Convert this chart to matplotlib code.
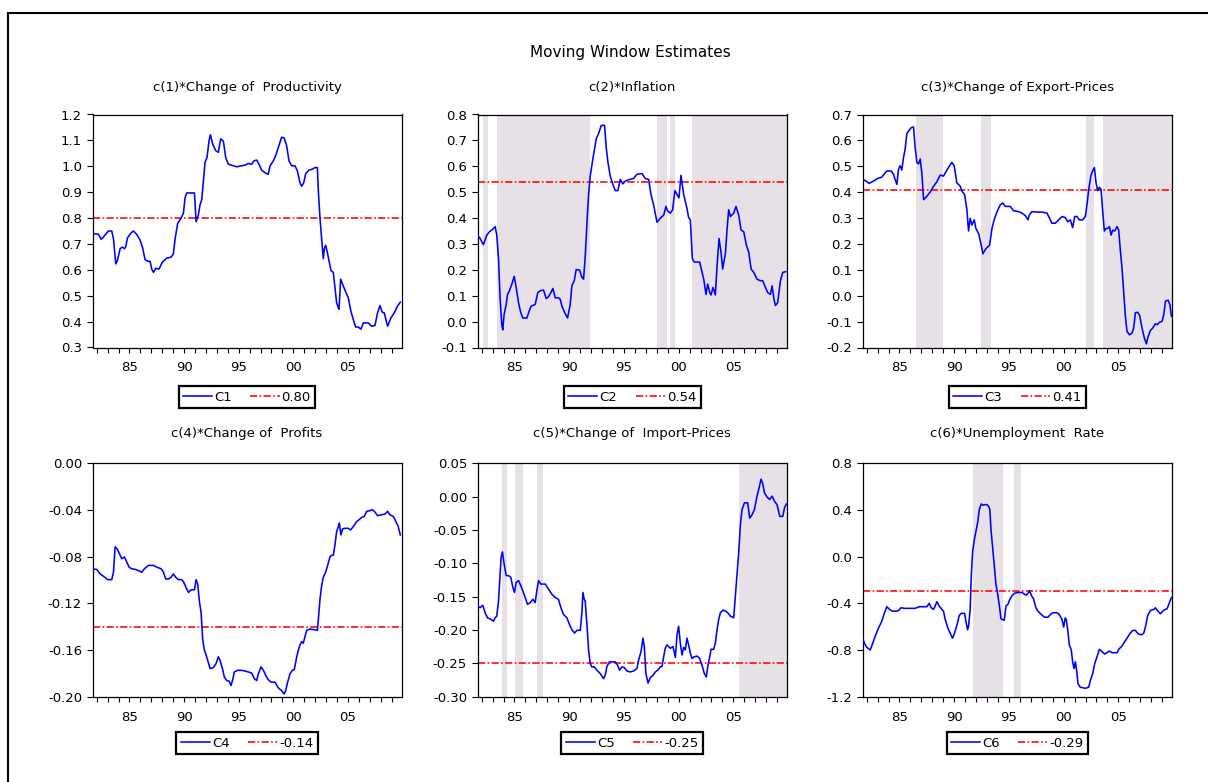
import matplotlib

matplotlib.use("Agg")
import matplotlib.pyplot as plt
from matplotlib.patches import Rectangle
import numpy as np

FIG_W, FIG_H = 1208, 782
X_START, X_END = 1981.62, 2009.9

TITLES = [
    "c(1)*Change of  Productivity",
    "c(2)*Inflation",
    "c(3)*Change of Export-Prices",
    "c(4)*Change of  Profits",
    "c(5)*Change of  Import-Prices",
    "c(6)*Unemployment  Rate",
]
NAMES = ["C1", "C2", "C3", "C4", "C5", "C6"]
MEANS = [0.80, 0.54, 0.41, -0.14, -0.25, -0.29]
Y_LIMITS = [(0.3, 1.2), (-0.1, 0.8), (-0.2, 0.7), (-0.20, 0.00), (-0.30, 0.05), (-1.2, 0.8)]
Y_STEPS = [0.1, 0.1, 0.1, 0.04, 0.05, 0.4]
Y_DECIMALS = [1, 1, 1, 2, 2, 1]
YEAR_LABELS = {1985: "85", 1990: "90", 1995: "95", 2000: "00", 2005: "05"}

# (year, estimate)
C1 = [
    (1981.62, 0.740), (1982.16, 0.738), (1982.41, 0.718), (1982.62, 0.727), (1983.08, 0.750),
    (1983.38, 0.750), (1983.54, 0.720), (1983.75, 0.623), (1983.90, 0.636), (1984.15, 0.682),
    (1984.36, 0.688), (1984.54, 0.682), (1984.66, 0.688), (1984.82, 0.723), (1985.15, 0.743),
    (1985.37, 0.750), (1985.67, 0.737), (1985.98, 0.714), (1986.19, 0.688), (1986.43, 0.640),
    (1986.68, 0.633), (1986.89, 0.633), (1987.04, 0.603), (1987.20, 0.590), (1987.41, 0.606),
    (1987.71, 0.603), (1988.02, 0.630), (1988.41, 0.645), (1988.81, 0.649), (1989.02, 0.662),
    (1989.18, 0.720), (1989.42, 0.780), (1989.73, 0.800), (1989.94, 0.819), (1990.09, 0.878),
    (1990.24, 0.897), (1990.95, 0.897), (1991.10, 0.786), (1991.31, 0.812), (1991.46, 0.851),
    (1991.62, 0.871), (1991.77, 0.943), (1991.92, 1.015), (1992.10, 1.034), (1992.29, 1.100),
    (1992.41, 1.122), (1992.62, 1.086), (1992.90, 1.060), (1993.14, 1.054), (1993.35, 1.106),
    (1993.60, 1.097), (1993.81, 1.034), (1994.05, 1.008), (1994.51, 1.002), (1994.82, 0.998),
    (1995.27, 1.002), (1995.64, 1.005), (1995.88, 1.011), (1996.19, 1.008), (1996.40, 1.021),
    (1996.65, 1.024), (1996.86, 1.008), (1997.10, 0.985), (1997.41, 0.975), (1997.71, 0.969),
    (1997.87, 1.002), (1998.17, 1.021), (1998.38, 1.041), (1998.63, 1.073), (1998.93, 1.112),
    (1999.15, 1.110), (1999.39, 1.080), (1999.60, 1.021), (1999.85, 1.002), (2000.15, 1.002),
    (2000.37, 0.982), (2000.61, 0.936), (2000.76, 0.923), (2000.95, 0.936), (2001.13, 0.971),
    (2001.43, 0.985), (2001.74, 0.989), (2001.98, 0.995), (2002.20, 0.995), (2002.29, 0.904),
    (2002.44, 0.800), (2002.59, 0.721), (2002.74, 0.643), (2002.84, 0.682), (2002.96, 0.695),
    (2003.14, 0.662), (2003.29, 0.630), (2003.45, 0.597), (2003.66, 0.590), (2003.81, 0.532),
    (2003.96, 0.473), (2004.18, 0.447), (2004.33, 0.564), (2004.57, 0.538), (2004.82, 0.512),
    (2005.03, 0.492), (2005.27, 0.440), (2005.49, 0.408), (2005.70, 0.379), (2005.95, 0.379),
    (2006.19, 0.371), (2006.40, 0.395), (2006.86, 0.395), (2007.16, 0.382), (2007.47, 0.385),
    (2007.71, 0.434), (2007.93, 0.462), (2008.14, 0.436), (2008.32, 0.434), (2008.63, 0.382),
    (2008.93, 0.414), (2009.24, 0.434), (2009.54, 0.460), (2009.79, 0.475),
]
C2 = [
    (1981.62, 0.334), (1981.86, 0.321), (1982.16, 0.297), (1982.47, 0.334), (1982.71, 0.347),
    (1983.02, 0.357), (1983.23, 0.367), (1983.38, 0.334), (1983.54, 0.243), (1983.69, 0.086),
    (1983.84, -0.012), (1983.93, -0.032), (1984.05, 0.027), (1984.24, 0.066), (1984.36, 0.105),
    (1984.54, 0.119), (1984.76, 0.145), (1984.97, 0.175), (1985.15, 0.132), (1985.37, 0.073),
    (1985.58, 0.034), (1985.76, 0.014), (1986.13, 0.014), (1986.34, 0.040), (1986.52, 0.060),
    (1986.89, 0.066), (1987.13, 0.112), (1987.35, 0.119), (1987.65, 0.122), (1987.90, 0.089),
    (1988.11, 0.096), (1988.32, 0.112), (1988.51, 0.128), (1988.72, 0.092), (1989.02, 0.092),
    (1989.18, 0.086), (1989.33, 0.060), (1989.57, 0.036), (1989.85, 0.014), (1990.09, 0.066),
    (1990.24, 0.138), (1990.46, 0.158), (1990.64, 0.201), (1990.95, 0.199), (1991.16, 0.171),
    (1991.31, 0.164), (1991.46, 0.249), (1991.62, 0.380), (1991.77, 0.491), (1991.92, 0.562),
    (1992.16, 0.628), (1992.32, 0.667), (1992.47, 0.706), (1992.68, 0.726), (1992.93, 0.758),
    (1993.23, 0.758), (1993.38, 0.673), (1993.54, 0.615), (1993.75, 0.562), (1993.99, 0.530),
    (1994.21, 0.506), (1994.45, 0.506), (1994.66, 0.549), (1994.91, 0.532), (1995.12, 0.543),
    (1995.52, 0.549), (1995.88, 0.553), (1996.19, 0.569), (1996.65, 0.572), (1996.95, 0.553),
    (1997.26, 0.549), (1997.47, 0.491), (1997.71, 0.451), (1998.02, 0.384), (1998.38, 0.402),
    (1998.63, 0.411), (1998.84, 0.445), (1998.99, 0.428), (1999.24, 0.419), (1999.45, 0.432),
    (1999.66, 0.506), (1999.85, 0.491), (2000.03, 0.478), (2000.21, 0.565), (2000.37, 0.517),
    (2000.46, 0.491), (2000.76, 0.438), (2000.91, 0.402), (2001.07, 0.393), (2001.25, 0.243),
    (2001.43, 0.230), (2001.92, 0.230), (2002.07, 0.203), (2002.29, 0.164), (2002.50, 0.105),
    (2002.65, 0.145), (2002.84, 0.112), (2002.96, 0.103), (2003.14, 0.132), (2003.35, 0.103),
    (2003.51, 0.216), (2003.69, 0.321), (2003.87, 0.269), (2004.02, 0.203), (2004.27, 0.262),
    (2004.42, 0.354), (2004.57, 0.432), (2004.73, 0.406), (2005.03, 0.419), (2005.24, 0.445),
    (2005.49, 0.411), (2005.70, 0.354), (2005.95, 0.347), (2006.19, 0.295), (2006.40, 0.269),
    (2006.62, 0.203), (2006.86, 0.190), (2007.16, 0.164), (2007.47, 0.158), (2007.68, 0.158),
    (2007.93, 0.132), (2008.14, 0.112), (2008.38, 0.105), (2008.54, 0.138), (2008.69, 0.092),
    (2008.84, 0.062), (2009.05, 0.073), (2009.30, 0.158), (2009.51, 0.190), (2009.79, 0.193),
]
C3 = [
    (1981.62, 0.449), (1981.86, 0.445), (1982.23, 0.434), (1982.62, 0.443), (1983.02, 0.453),
    (1983.38, 0.458), (1983.63, 0.471), (1983.84, 0.482), (1984.24, 0.482), (1984.45, 0.469),
    (1984.60, 0.449), (1984.76, 0.430), (1984.91, 0.489), (1985.06, 0.502), (1985.21, 0.485),
    (1985.37, 0.534), (1985.52, 0.567), (1985.67, 0.626), (1985.88, 0.639), (1986.07, 0.649),
    (1986.28, 0.652), (1986.43, 0.573), (1986.59, 0.515), (1986.74, 0.509), (1986.89, 0.528),
    (1987.04, 0.475), (1987.20, 0.371), (1987.50, 0.384), (1987.81, 0.401), (1988.11, 0.423),
    (1988.41, 0.440), (1988.72, 0.466), (1989.02, 0.462), (1989.33, 0.485), (1989.57, 0.502),
    (1989.79, 0.515), (1990.00, 0.502), (1990.24, 0.436), (1990.55, 0.423), (1990.70, 0.404),
    (1990.95, 0.391), (1991.16, 0.332), (1991.31, 0.250), (1991.46, 0.299), (1991.62, 0.273),
    (1991.83, 0.293), (1991.98, 0.260), (1992.23, 0.240), (1992.47, 0.195), (1992.62, 0.162),
    (1992.90, 0.182), (1993.23, 0.195), (1993.45, 0.260), (1993.69, 0.299), (1993.99, 0.332),
    (1994.21, 0.351), (1994.45, 0.358), (1994.66, 0.345), (1995.12, 0.345), (1995.43, 0.328),
    (1995.88, 0.325), (1996.19, 0.319), (1996.49, 0.310), (1996.74, 0.293), (1996.86, 0.312),
    (1997.10, 0.325), (1997.56, 0.323), (1998.02, 0.323), (1998.48, 0.319), (1998.63, 0.306),
    (1998.93, 0.280), (1999.24, 0.280), (1999.54, 0.293), (1999.85, 0.306), (2000.15, 0.302),
    (2000.37, 0.286), (2000.61, 0.293), (2000.82, 0.263), (2001.01, 0.306), (2001.22, 0.306),
    (2001.43, 0.293), (2001.74, 0.293), (2001.98, 0.306), (2002.13, 0.351), (2002.29, 0.410),
    (2002.50, 0.466), (2002.65, 0.482), (2002.81, 0.495), (2002.96, 0.436), (2003.11, 0.406),
    (2003.26, 0.419), (2003.42, 0.410), (2003.57, 0.325), (2003.72, 0.250), (2003.87, 0.260),
    (2004.02, 0.260), (2004.18, 0.267), (2004.33, 0.234), (2004.48, 0.253), (2004.66, 0.250),
    (2004.88, 0.267), (2005.03, 0.253), (2005.18, 0.175), (2005.34, 0.103), (2005.49, 0.012),
    (2005.64, -0.079), (2005.79, -0.138), (2006.01, -0.151), (2006.25, -0.144), (2006.40, -0.125),
    (2006.55, -0.066), (2006.77, -0.064), (2006.95, -0.077), (2007.16, -0.125), (2007.38, -0.164),
    (2007.56, -0.186), (2007.71, -0.158), (2007.93, -0.134), (2008.14, -0.125), (2008.38, -0.108),
    (2008.54, -0.112), (2008.75, -0.103), (2008.99, -0.099), (2009.15, -0.073), (2009.30, -0.021),
    (2009.54, -0.017), (2009.70, -0.034), (2009.85, -0.079),
]
C4 = [
    (1981.62, -0.0904), (1982.01, -0.0910), (1982.32, -0.0948), (1982.62, -0.0968), (1983.02, -0.0997),
    (1983.38, -0.0997), (1983.54, -0.0933), (1983.69, -0.0716), (1983.90, -0.0736), (1984.15, -0.0788),
    (1984.30, -0.0817), (1984.54, -0.0803), (1984.76, -0.0846), (1984.97, -0.0890), (1985.21, -0.0904),
    (1985.58, -0.0910), (1985.82, -0.0919), (1986.13, -0.0933), (1986.37, -0.0904), (1986.74, -0.0875),
    (1987.20, -0.0875), (1987.50, -0.0890), (1987.90, -0.0904), (1988.11, -0.0933), (1988.32, -0.0991),
    (1988.57, -0.0991), (1988.81, -0.0977), (1989.02, -0.0948), (1989.24, -0.0977), (1989.48, -0.0997),
    (1989.79, -0.0997), (1989.94, -0.1014), (1990.18, -0.1064), (1990.40, -0.1107), (1990.64, -0.1084),
    (1990.95, -0.1084), (1991.10, -0.0997), (1991.25, -0.1035), (1991.40, -0.1180), (1991.56, -0.1281),
    (1991.71, -0.1513), (1991.86, -0.1600), (1992.07, -0.1658), (1992.23, -0.1710), (1992.38, -0.1759),
    (1992.68, -0.1751), (1992.93, -0.1716), (1993.14, -0.1658), (1993.29, -0.1687), (1993.51, -0.1759),
    (1993.69, -0.1832), (1993.90, -0.1861), (1994.12, -0.1867), (1994.30, -0.1904), (1994.45, -0.1855),
    (1994.60, -0.1788), (1994.91, -0.1774), (1995.27, -0.1774), (1995.58, -0.1780), (1995.88, -0.1788),
    (1996.19, -0.1797), (1996.43, -0.1846), (1996.65, -0.1861), (1996.80, -0.1803), (1997.04, -0.1745),
    (1997.26, -0.1774), (1997.47, -0.1817), (1997.71, -0.1855), (1997.96, -0.1875), (1998.32, -0.1875),
    (1998.63, -0.1925), (1998.93, -0.1948), (1999.15, -0.1977), (1999.30, -0.1948), (1999.48, -0.1875),
    (1999.70, -0.1803), (1999.91, -0.1774), (2000.09, -0.1768), (2000.31, -0.1658), (2000.46, -0.1600),
    (2000.61, -0.1557), (2000.76, -0.1528), (2000.91, -0.1542), (2001.07, -0.1484), (2001.22, -0.1432),
    (2001.52, -0.1420), (2001.92, -0.1426), (2002.20, -0.1432), (2002.29, -0.1339), (2002.44, -0.1165),
    (2002.59, -0.1049), (2002.74, -0.0977), (2002.96, -0.0933), (2003.14, -0.0875), (2003.35, -0.0803),
    (2003.51, -0.0788), (2003.66, -0.0788), (2003.81, -0.0701), (2003.96, -0.0586), (2004.12, -0.0542),
    (2004.21, -0.0513), (2004.36, -0.0614), (2004.51, -0.0562), (2004.73, -0.0557), (2005.03, -0.0557),
    (2005.24, -0.0571), (2005.49, -0.0542), (2005.79, -0.0499), (2006.01, -0.0484), (2006.25, -0.0464),
    (2006.49, -0.0455), (2006.71, -0.0412), (2007.01, -0.0406), (2007.23, -0.0397), (2007.47, -0.0417),
    (2007.71, -0.0449), (2008.08, -0.0441), (2008.38, -0.0435), (2008.63, -0.0412), (2008.84, -0.0441),
    (2009.15, -0.0455), (2009.36, -0.0493), (2009.60, -0.0542), (2009.79, -0.0614),
]
C5 = [
    (1981.62, -0.1640), (1981.86, -0.1665), (1982.10, -0.1630), (1982.32, -0.1741), (1982.53, -0.1817),
    (1982.77, -0.1833), (1983.08, -0.1868), (1983.23, -0.1817), (1983.38, -0.1792), (1983.54, -0.1564),
    (1983.69, -0.1158), (1983.78, -0.0905), (1983.90, -0.0829), (1984.05, -0.1006), (1984.24, -0.1184),
    (1984.45, -0.1184), (1984.66, -0.1209), (1984.85, -0.1361), (1985.00, -0.1437), (1985.15, -0.1285),
    (1985.37, -0.1260), (1985.58, -0.1336), (1985.76, -0.1412), (1985.98, -0.1513), (1986.19, -0.1615),
    (1986.43, -0.1590), (1986.68, -0.1539), (1986.89, -0.1590), (1987.04, -0.1412), (1987.20, -0.1260),
    (1987.41, -0.1311), (1987.81, -0.1311), (1988.11, -0.1386), (1988.41, -0.1462), (1988.72, -0.1513),
    (1989.02, -0.1539), (1989.24, -0.1665), (1989.48, -0.1767), (1989.79, -0.1817), (1990.03, -0.1919),
    (1990.24, -0.1995), (1990.49, -0.2046), (1990.70, -0.2005), (1991.01, -0.2005), (1991.16, -0.1741),
    (1991.25, -0.1437), (1991.37, -0.1539), (1991.46, -0.1564), (1991.62, -0.1919), (1991.77, -0.2299),
    (1991.92, -0.2502), (1992.07, -0.2553), (1992.29, -0.2553), (1992.53, -0.2603), (1992.84, -0.2654),
    (1993.14, -0.2730), (1993.29, -0.2680), (1993.45, -0.2543), (1993.69, -0.2477), (1993.99, -0.2477),
    (1994.21, -0.2477), (1994.42, -0.2527), (1994.60, -0.2603), (1994.82, -0.2553), (1995.03, -0.2563),
    (1995.27, -0.2614), (1995.58, -0.2629), (1995.88, -0.2614), (1996.19, -0.2578), (1996.34, -0.2451),
    (1996.56, -0.2325), (1996.74, -0.2122), (1996.86, -0.2248), (1997.01, -0.2654), (1997.20, -0.2796),
    (1997.41, -0.2715), (1997.65, -0.2680), (1997.87, -0.2629), (1998.08, -0.2603), (1998.32, -0.2553),
    (1998.48, -0.2543), (1998.63, -0.2401), (1998.78, -0.2274), (1998.93, -0.2223), (1999.09, -0.2248),
    (1999.24, -0.2274), (1999.48, -0.2248), (1999.70, -0.2411), (1999.85, -0.2071), (2000.00, -0.1944),
    (2000.15, -0.2198), (2000.31, -0.2375), (2000.46, -0.2259), (2000.61, -0.2299), (2000.76, -0.2122),
    (2000.91, -0.2223), (2001.07, -0.2350), (2001.22, -0.2426), (2001.43, -0.2401), (2001.68, -0.2391),
    (2001.92, -0.2426), (2002.13, -0.2527), (2002.35, -0.2654), (2002.53, -0.2705), (2002.68, -0.2527),
    (2002.84, -0.2401), (2002.96, -0.2289), (2003.20, -0.2289), (2003.35, -0.2198), (2003.51, -0.1995),
    (2003.66, -0.1843), (2003.81, -0.1741), (2004.05, -0.1701), (2004.27, -0.1716), (2004.48, -0.1741),
    (2004.73, -0.1792), (2005.03, -0.1817), (2005.18, -0.1488), (2005.34, -0.1158), (2005.49, -0.0829),
    (2005.64, -0.0423), (2005.79, -0.0195), (2006.01, -0.0093), (2006.31, -0.0093), (2006.49, -0.0322),
    (2006.71, -0.0271), (2006.92, -0.0195), (2007.16, 0.0008), (2007.32, 0.0110), (2007.53, 0.0262),
    (2007.68, 0.0196), (2007.84, 0.0059), (2008.08, -0.0007), (2008.32, -0.0043), (2008.54, 0.0008),
    (2008.75, -0.0068), (2008.99, -0.0119), (2009.24, -0.0296), (2009.51, -0.0296), (2009.67, -0.0169),
    (2009.85, -0.0109),
]
C6 = [
    (1981.62, -0.699), (1981.80, -0.742), (1982.01, -0.777), (1982.32, -0.800), (1982.47, -0.765),
    (1982.77, -0.684), (1983.08, -0.612), (1983.38, -0.554), (1983.63, -0.481), (1983.84, -0.429),
    (1984.09, -0.452), (1984.36, -0.467), (1984.76, -0.467), (1984.97, -0.458), (1985.12, -0.438),
    (1985.52, -0.443), (1985.98, -0.443), (1986.43, -0.443), (1986.80, -0.429), (1987.20, -0.429),
    (1987.50, -0.429), (1987.71, -0.400), (1987.90, -0.438), (1988.11, -0.452), (1988.26, -0.423),
    (1988.41, -0.386), (1988.63, -0.423), (1988.87, -0.452), (1989.02, -0.467), (1989.18, -0.539),
    (1989.42, -0.612), (1989.63, -0.655), (1989.85, -0.699), (1990.03, -0.655), (1990.24, -0.591),
    (1990.46, -0.504), (1990.64, -0.486), (1990.95, -0.486), (1991.07, -0.554), (1991.22, -0.626),
    (1991.31, -0.597), (1991.46, -0.452), (1991.56, -0.162), (1991.68, 0.041), (1991.83, 0.142),
    (1991.98, 0.214), (1992.16, 0.301), (1992.29, 0.403), (1992.47, 0.452), (1992.62, 0.441),
    (1992.84, 0.446), (1992.99, 0.446), (1993.14, 0.432), (1993.26, 0.403), (1993.35, 0.243),
    (1993.51, 0.084), (1993.66, -0.075), (1993.81, -0.235), (1993.99, -0.330), (1994.15, -0.438),
    (1994.27, -0.533), (1994.42, -0.539), (1994.57, -0.545), (1994.73, -0.423), (1994.91, -0.409),
    (1995.06, -0.371), (1995.27, -0.336), (1995.52, -0.313), (1995.82, -0.307), (1996.19, -0.307),
    (1996.43, -0.322), (1996.59, -0.330), (1996.80, -0.307), (1996.89, -0.293), (1997.04, -0.330),
    (1997.26, -0.365), (1997.47, -0.438), (1997.65, -0.467), (1997.96, -0.496), (1998.26, -0.519),
    (1998.57, -0.519), (1998.78, -0.496), (1998.99, -0.481), (1999.39, -0.481), (1999.60, -0.496),
    (1999.85, -0.539), (2000.00, -0.603), (2000.15, -0.525), (2000.24, -0.539), (2000.37, -0.626),
    (2000.52, -0.757), (2000.70, -0.800), (2000.82, -0.901), (2000.95, -0.959), (2001.07, -0.901),
    (2001.19, -0.974), (2001.31, -1.090), (2001.52, -1.119), (2001.98, -1.128), (2002.29, -1.119),
    (2002.44, -1.061), (2002.65, -1.003), (2002.84, -0.916), (2003.05, -0.858), (2003.26, -0.794),
    (2003.51, -0.814), (2003.75, -0.835), (2003.96, -0.823), (2004.18, -0.809), (2004.42, -0.823),
    (2004.88, -0.823), (2005.03, -0.794), (2005.34, -0.765), (2005.58, -0.728), (2005.79, -0.699),
    (2006.04, -0.661), (2006.31, -0.632), (2006.55, -0.632), (2006.80, -0.661), (2007.10, -0.670),
    (2007.32, -0.655), (2007.47, -0.603), (2007.68, -0.504), (2007.93, -0.461), (2008.23, -0.452),
    (2008.38, -0.438), (2008.54, -0.458), (2008.84, -0.490), (2009.15, -0.458), (2009.45, -0.446),
    (2009.60, -0.409), (2009.76, -0.371), (2009.85, -0.351),
]
SERIES = [C1, C2, C3, C4, C5, C6]

# shaded periods (start year, end year)
SHADES = [
    [],
    [(1982.10, 1982.56), (1983.38, 1991.86), (1998.02, 1998.93), (1999.18, 1999.63), (2001.22, X_END)],
    [(1986.49, 1988.93), (1992.47, 1993.38), (2002.04, 2002.81), (2003.57, X_END)],
    [],
    [(1983.84, 1984.30), (1985.09, 1985.82), (1987.10, 1987.65), (2005.52, X_END)],
    [(1991.71, 1994.45), (1995.43, 1996.13)],
]

COL_PX = [(92.5, 401.5), (477.5, 787.0), (862.5, 1172.0)]
ROW_PX = [(114.5, 347.5), (463.3, 696.7)]
TITLE_Y_PX = [87, 434]
LEGEND_TOP_PX = [386, 732]

BLUE = "#0000FF"
RED = "#FF0000"
SHADE = "#E6E1E6"
DASHDOT = (0, (4.5, 1.5, 1, 1.5))


def _fx(px):
    return px / FIG_W


def _fy(py):
    return 1 - py / FIG_H


def _tick_text(value, decimals):
    if abs(value) < 1e-9:
        value = 0.0
    return f"{value:.{decimals}f}"


def _draw_panel(fig, idx):
    row, col = divmod(idx, 3)
    x0, x1 = COL_PX[col]
    y0, y1 = ROW_PX[row]
    ax = fig.add_axes([_fx(x0), _fy(y1), _fx(x1 - x0), (y1 - y0) / FIG_H])

    for start, end in SHADES[idx]:
        ax.axvspan(start, end, color=SHADE, lw=0, zorder=0)

    years = [p[0] for p in SERIES[idx]]
    values = [p[1] for p in SERIES[idx]]
    ax.plot(years, values, color=BLUE, lw=1.15, label=NAMES[idx], zorder=3)
    ax.axhline(MEANS[idx], color=RED, lw=1.15, ls=DASHDOT, label=f"{MEANS[idx]:.2f}", zorder=2)

    lo, hi = Y_LIMITS[idx]
    step = Y_STEPS[idx]
    ticks = np.round(np.arange(lo, hi + step / 2, step), 4)
    ax.set_ylim(lo, hi)
    ax.set_yticks(ticks)
    ax.set_yticklabels([_tick_text(t, Y_DECIMALS[idx]) for t in ticks])

    all_years = list(range(1982, 2010))
    ax.set_xlim(X_START, X_END)
    ax.set_xticks(all_years)
    ax.set_xticklabels([YEAR_LABELS.get(y, "") for y in all_years])

    ax.tick_params(axis="x", direction="out", length=3.5, width=0.8, pad=6.5)
    ax.tick_params(axis="y", direction="out", length=4.5, width=0.8, pad=3)
    for spine in ax.spines.values():
        spine.set_linewidth(0.9)
        spine.set_color("black")

    cx = (x0 + x1) / 2
    fig.text(_fx(cx), _fy(TITLE_Y_PX[row]), TITLES[idx], ha="center", va="center", fontsize=9.5)

    leg = ax.legend(
        loc="upper center",
        bbox_to_anchor=(_fx(cx), _fy(LEGEND_TOP_PX[row])),
        bbox_transform=fig.transFigure,
        ncol=2,
        frameon=True,
        fancybox=False,
        shadow=False,
        borderaxespad=0,
        borderpad=0.35,
        handlelength=2.2,
        handletextpad=0.15,
        columnspacing=1.4,
        fontsize=9.5,
    )
    frame = leg.get_frame()
    frame.set_edgecolor("black")
    frame.set_linewidth(1.6)
    frame.set_alpha(1)
    return ax


def main() -> None:
    plt.rcParams["font.family"] = ["DejaVu Sans"]
    plt.rcParams["font.size"] = 9.5
    plt.rcParams["axes.unicode_minus"] = False

    fig = plt.figure(figsize=(FIG_W / 100, FIG_H / 100), dpi=100)
    fig.patch.set_facecolor("white")

    border = Rectangle(
        (_fx(8), -0.1), 2, _fy(13) + 0.1,
        transform=fig.transFigure, fill=False, lw=1.5, ec="black",
    )
    fig.add_artist(border)

    fig.text(_fx(630.5), _fy(52), "Moving Window Estimates", ha="center", va="center", fontsize=11)

    for idx in range(6):
        _draw_panel(fig, idx)

    fig.savefig("out.png", dpi=100)
    plt.close(fig)


if __name__ == "__main__":
    main()
